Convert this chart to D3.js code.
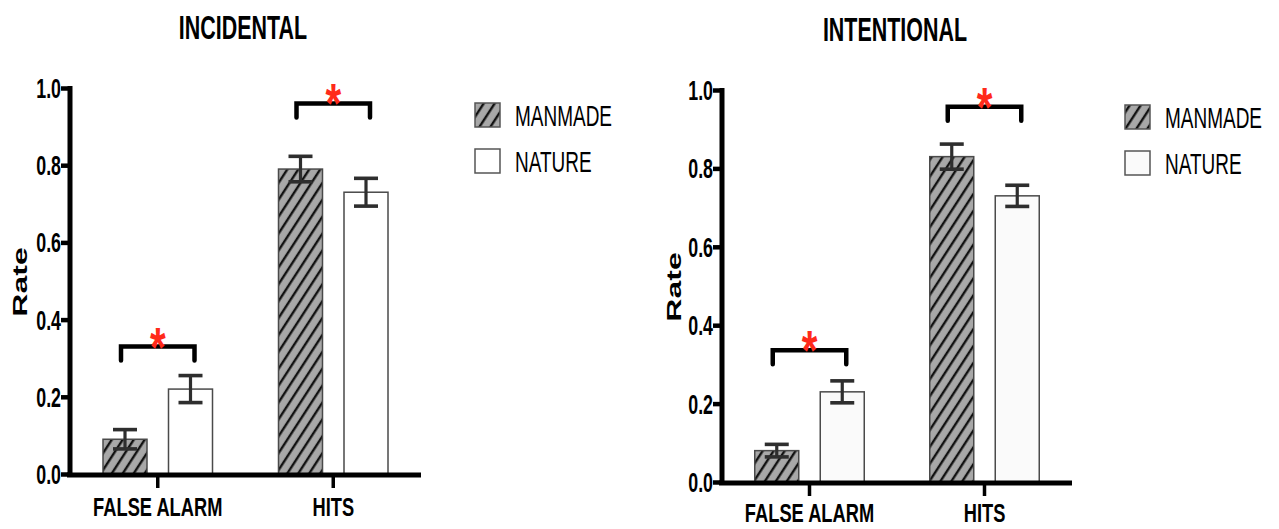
<!DOCTYPE html>
<html>
<head>
<meta charset="utf-8">
<script src="https://cdn.jsdelivr.net/npm/d3@7/dist/d3.min.js"></script>
<style>
  html, body { margin: 0; padding: 0; background: #fff; }
  svg { display: block; }
  text { font-family: "Liberation Sans", Arial, Helvetica, sans-serif; }
</style>
</head>
<body>
<svg id="chart" width="1279" height="529"></svg>
<script>
// ---------------- DATA ----------------
const categories = ["FALSE ALARM", "HITS"];
const series = ["MANMADE", "NATURE"];
const yTicks = [0, 0.2, 0.4, 0.6, 0.8, 1.0];

const incidentalManmade = [0.09, 0.79];
const incidentalManmadeErr = [0.025, 0.033];
const incidentalNature = [0.22, 0.73];
const incidentalNatureErr = [0.035, 0.036];
const incidentalSig = [0.33, 0.96];

const intentionalManmade = [0.08, 0.83];
const intentionalManmadeErr = [0.016, 0.032];
const intentionalNature = [0.23, 0.73];
const intentionalNatureErr = [0.028, 0.027];
const intentionalSig = [0.336, 0.957];

// ---------------- LAYOUT ----------------
const panels = [
  { title: "INCIDENTAL", titleX: 243, titleY: 39,
    left: 70, right: 421, y0: 474, y1: 88, natureFill: "#ffffff",
    rateX: 27, rateY: 282, catY: 516,
    legX: 475, legY: 103, legTextX: 515,
    manmade: incidentalManmade, manmadeErr: incidentalManmadeErr,
    nature: incidentalNature, natureErr: incidentalNatureErr, sig: incidentalSig },
  { title: "INTENTIONAL", titleX: 895, titleY: 41,
    left: 722, right: 1072, y0: 482, y1: 90, natureFill: "#fafafa",
    rateX: 681, rateY: 287, catY: 522,
    legX: 1125, legY: 105, legTextX: 1165,
    manmade: intentionalManmade, manmadeErr: intentionalManmadeErr,
    nature: intentionalNature, natureErr: intentionalNatureErr, sig: intentionalSig }
];

const svg = d3.select("#chart");

// hatch pattern
const defs = svg.append("defs");
const pat = defs.append("pattern")
  .attr("id", "hatch")
  .attr("patternUnits", "userSpaceOnUse")
  .attr("width", 9.2).attr("height", 20)
  .attr("patternTransform", "rotate(33)");
pat.append("rect").attr("width", 9.2).attr("height", 20).attr("fill", "#a8a8a8");
pat.append("line").attr("x1", 2).attr("x2", 2).attr("y1", 0).attr("y2", 20)
  .attr("stroke", "#111").attr("stroke-width", 2.4);

function sqText(g, str, x, y, size, sx, weight, anchor) {
  return g.append("text")
    .attr("transform", `translate(${x},${y}) scale(${sx},1)`)
    .attr("text-anchor", anchor || "middle")
    .attr("font-size", size)
    .attr("font-weight", weight || "bold")
    .attr("fill", "#000")
    .text(str);
}

panels.forEach(p => {
  const g = svg.append("g");

  const y = d3.scaleLinear().domain([0, 1]).range([p.y0, p.y1]);
  const x0 = d3.scaleBand().domain(categories).range([p.left, p.right]).padding(0);
  const x1 = d3.scalePoint().domain(series).range([-32.75, 32.75]);
  const barW = 44;

  // title
  sqText(g, p.title, p.titleX, p.titleY, 33, 0.65, "bold");

  // bars
  const rows = categories.map((c, i) => [
    { cat: c, s: series[0], v: p.manmade[i], e: p.manmadeErr[i] },
    { cat: c, s: series[1], v: p.nature[i], e: p.natureErr[i] }
  ]).flat();

  g.selectAll("rect.bar").data(rows).join("rect")
    .attr("class", "bar")
    .attr("x", d => x0(d.cat) + x0.bandwidth() / 2 + x1(d.s) - barW / 2)
    .attr("width", barW)
    .attr("y", d => y(d.v))
    .attr("height", d => y(0) - y(d.v))
    .attr("fill", d => d.s === "MANMADE" ? "url(#hatch)" : p.natureFill)
    .attr("stroke", "#4a4a4a")
    .attr("stroke-width", 1.5);

  // error bars
  const eb = g.selectAll("g.err").data(rows).join("g").attr("class", "err")
    .attr("transform", d => `translate(${x0(d.cat) + x0.bandwidth() / 2 + x1(d.s)},0)`);
  eb.append("line").attr("x1", 0).attr("x2", 0)
    .attr("y1", d => y(d.v + d.e)).attr("y2", d => y(d.v - d.e))
    .attr("stroke", "#2e2e2e").attr("stroke-width", 3.2);
  eb.append("line").attr("x1", -12).attr("x2", 12)
    .attr("y1", d => y(d.v + d.e)).attr("y2", d => y(d.v + d.e))
    .attr("stroke", "#2e2e2e").attr("stroke-width", 3.6);
  eb.append("line").attr("x1", -12).attr("x2", 12)
    .attr("y1", d => y(d.v - d.e)).attr("y2", d => y(d.v - d.e))
    .attr("stroke", "#2e2e2e").attr("stroke-width", 3.6);

  // significance brackets
  categories.forEach((c, i) => {
    const cx = x0(c) + x0.bandwidth() / 2;
    const xa = cx + x1(series[0]) - 4;
    const xb = cx + x1(series[1]) + 4;
    const yb = y(p.sig[i]);
    g.append("path")
      .attr("d", `M${xa},${yb + 14}V${yb}H${xb}V${yb + 14}`)
      .attr("fill", "none").attr("stroke", "#000")
      .attr("stroke-width", 4.5).attr("stroke-linecap", "round")
      .attr("stroke-linejoin", "miter");
    g.append("text")
      .attr("transform", `translate(${cx},${yb + 19}) scale(0.72,1)`)
      .attr("text-anchor", "middle")
      .attr("font-size", 56).attr("font-weight", "bold")
      .attr("fill", "#ff2a1a")
      .text("*");
  });

  // y axis
  const yAxis = d3.axisLeft(y).tickValues(yTicks).tickFormat(d3.format(".1f"))
    .tickSize(9).tickSizeOuter(0).tickPadding(0);
  const ya = g.append("g").attr("transform", `translate(${p.left},0)`).call(yAxis);
  ya.select(".domain").attr("stroke", "#000").attr("stroke-width", 5)
    .attr("d", `M0,${y(0) + 2}V${y(1) - 2}`);
  ya.selectAll(".tick line").attr("stroke", "#000").attr("stroke-width", 4.5);
  ya.selectAll(".tick text")
    .attr("x", null).attr("dy", null)
    .attr("transform", "translate(-9,9.5) scale(0.66,1)")
    .attr("font-size", 27).attr("font-weight", "bold").attr("fill", "#000")
    .attr("font-family", "'Liberation Sans', Arial, sans-serif");

  // x axis
  const xAxis = d3.axisBottom(x0).tickSize(13).tickSizeOuter(0).tickFormat("");
  const xa = g.append("g").attr("transform", `translate(0,${p.y0 + 1})`).call(xAxis);
  xa.select(".domain").attr("stroke", "#000").attr("stroke-width", 5)
    .attr("d", `M${p.left - 3},0H${p.right}`);
  xa.selectAll(".tick line").attr("stroke", "#000").attr("stroke-width", 3.5);
  categories.forEach(c => {
    sqText(g, c, x0(c) + x0.bandwidth() / 2, p.catY, 26.5, 0.69, "bold");
  });

  // y label
  g.append("text")
    .attr("transform", `translate(${p.rateX},${p.rateY}) scale(0.61,1) rotate(-90)`)
    .attr("text-anchor", "middle")
    .attr("font-size", 32).attr("font-weight", "bold").attr("fill", "#000")
    .text("Rate");

  // legend
  series.forEach((s, i) => {
    const ly = p.legY + i * 46;
    g.append("rect").attr("x", p.legX).attr("y", ly).attr("width", 25).attr("height", 24)
      .attr("fill", i === 0 ? "url(#hatch)" : p.natureFill)
      .attr("stroke", "#555").attr("stroke-width", 1.5);
    sqText(g, s, p.legTextX, ly + 23, 29, 0.655, "normal", "start");
  });
});
</script>
</body>
</html>
